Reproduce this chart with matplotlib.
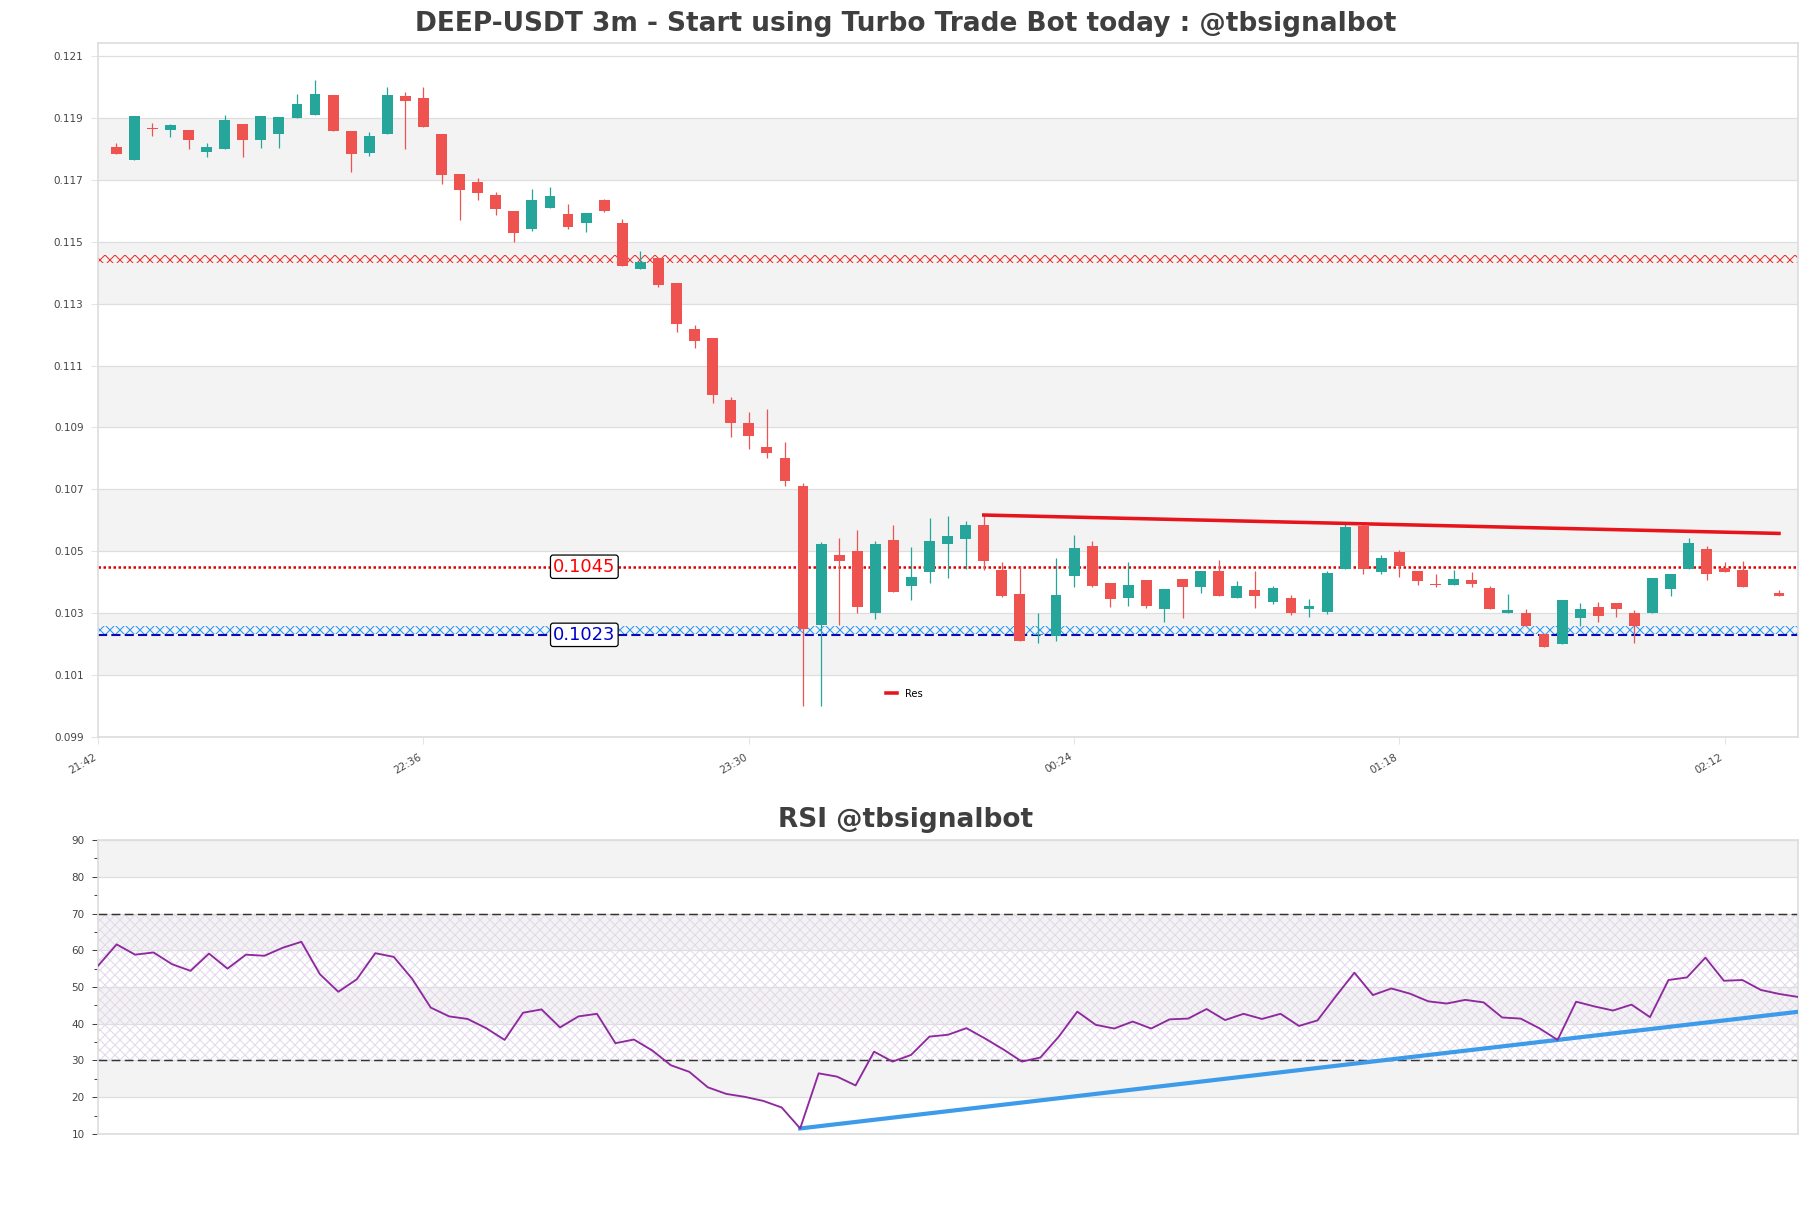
import matplotlib
matplotlib.use("Agg")
import matplotlib.pyplot as plt
import numpy as np
import pandas as pd

# OHLC of the 3m candles, first candle 21:45
opens = [0.11806, 0.11765, 0.11868, 0.11862, 0.11861, 0.11790, 0.11798, 0.11881, 0.11827, 0.11849,
         0.11901, 0.11908, 0.11974, 0.11858, 0.11785, 0.11849, 0.11970, 0.11965, 0.11848, 0.11719,
         0.11694, 0.11652, 0.11600, 0.11540, 0.11608, 0.11590, 0.11559, 0.11634, 0.11561, 0.11412,
         0.11447, 0.11368, 0.11218, 0.11188, 0.10988, 0.10914, 0.10838, 0.10801, 0.10711, 0.10262,
         0.10489, 0.10502, 0.10299, 0.10537, 0.10387, 0.10432, 0.10522, 0.10541, 0.10585, 0.10441,
         0.10363, 0.10229, 0.10226, 0.10419, 0.10518, 0.10399, 0.10348, 0.10408, 0.10315, 0.10411,
         0.10383, 0.10437, 0.10348, 0.10376, 0.10335, 0.10350, 0.10312, 0.10305, 0.10444, 0.10580,
         0.10432, 0.10496, 0.10437, 0.10394, 0.10390, 0.10408, 0.10382, 0.10302, 0.10300, 0.10233,
         0.10201, 0.10286, 0.10321, 0.10334, 0.10301, 0.10302, 0.10377, 0.10442, 0.10508, 0.10445,
         0.10441, 0.10368, 0.10366]
highs = [0.11818, 0.11906, 0.11883, 0.11881, 0.11861, 0.11818, 0.11909, 0.11881, 0.11906, 0.11903,
         0.11977, 0.12023, 0.11974, 0.11858, 0.11855, 0.11999, 0.11984, 0.11999, 0.11848, 0.11719,
         0.11705, 0.11661, 0.11600, 0.11671, 0.11677, 0.11623, 0.11594, 0.11638, 0.11573, 0.11469,
         0.11447, 0.11368, 0.11232, 0.11188, 0.10997, 0.10949, 0.10959, 0.10852, 0.10719, 0.10529,
         0.10542, 0.10568, 0.10534, 0.10585, 0.10515, 0.10607, 0.10614, 0.10598, 0.10617, 0.10465,
         0.10453, 0.10301, 0.10478, 0.10553, 0.10534, 0.10399, 0.10465, 0.10408, 0.10379, 0.10411,
         0.10437, 0.10473, 0.10405, 0.10437, 0.10388, 0.10358, 0.10346, 0.10435, 0.10590, 0.10585,
         0.10489, 0.10504, 0.10437, 0.10428, 0.10441, 0.10434, 0.10388, 0.10363, 0.10314, 0.10233,
         0.10343, 0.10334, 0.10337, 0.10334, 0.10311, 0.10415, 0.10428, 0.10543, 0.10516, 0.10466,
         0.10469, 0.10369, 0.10376]
lows = [0.11782, 0.11765, 0.11840, 0.11837, 0.11801, 0.11775, 0.11798, 0.11775, 0.11803, 0.11804,
        0.11901, 0.11908, 0.11856, 0.11724, 0.11778, 0.11849, 0.11798, 0.11872, 0.11685, 0.11569,
        0.11635, 0.11585, 0.11499, 0.11533, 0.11608, 0.11541, 0.11530, 0.11597, 0.11420, 0.11412,
        0.11354, 0.11209, 0.11157, 0.10978, 0.10870, 0.10831, 0.10802, 0.10712, 0.10000, 0.10000,
        0.10262, 0.10301, 0.10282, 0.10368, 0.10342, 0.10397, 0.10413, 0.10443, 0.10438, 0.10352,
        0.10210, 0.10205, 0.10210, 0.10384, 0.10385, 0.10320, 0.10323, 0.10316, 0.10270, 0.10286,
        0.10364, 0.10357, 0.10348, 0.10318, 0.10331, 0.10294, 0.10289, 0.10296, 0.10444, 0.10426,
        0.10426, 0.10416, 0.10391, 0.10386, 0.10390, 0.10386, 0.10315, 0.10299, 0.10259, 0.10192,
        0.10201, 0.10257, 0.10270, 0.10289, 0.10205, 0.10302, 0.10354, 0.10442, 0.10408, 0.10432,
        0.10383, 0.10368, 0.10354]
closes = [0.11782, 0.11906, 0.11865, 0.11877, 0.11830, 0.11806, 0.11894, 0.11830, 0.11906, 0.11903,
          0.11945, 0.11977, 0.11856, 0.11782, 0.11842, 0.11974, 0.11956, 0.11872, 0.11717, 0.11666,
          0.11657, 0.11604, 0.11527, 0.11635, 0.11648, 0.11546, 0.11594, 0.11600, 0.11420, 0.11434,
          0.11359, 0.11234, 0.11178, 0.11005, 0.10915, 0.10873, 0.10818, 0.10726, 0.10248, 0.10524,
          0.10467, 0.10320, 0.10524, 0.10368, 0.10418, 0.10534, 0.10548, 0.10585, 0.10467, 0.10355,
          0.10210, 0.10233, 0.10360, 0.10511, 0.10389, 0.10345, 0.10392, 0.10322, 0.10379, 0.10383,
          0.10437, 0.10357, 0.10389, 0.10357, 0.10382, 0.10301, 0.10324, 0.10431, 0.10577, 0.10444,
          0.10479, 0.10451, 0.10403, 0.10390, 0.10411, 0.10394, 0.10315, 0.10311, 0.10259, 0.10192,
          0.10343, 0.10314, 0.10292, 0.10315, 0.10260, 0.10415, 0.10428, 0.10528, 0.10425, 0.10432,
          0.10383, 0.10369, 0.10354]
rsi = [55.8, 61.6, 58.8, 59.4, 56.2, 54.4, 59.1, 55.0, 58.8, 58.5,
       60.7, 62.3, 53.5, 48.7, 52.1, 59.2, 58.2, 52.2, 44.4, 42.0,
       41.3, 38.8, 35.6, 43.0, 43.9, 39.0, 42.0, 42.7, 34.7, 35.7,
       32.7, 28.7, 26.9, 22.7, 20.9, 20.1, 19.0, 17.2, 11.5, 26.5,
       25.6, 23.2, 32.4, 29.7, 31.5, 36.5, 37.0, 38.8, 36.0, 33.0,
       29.7, 30.8, 36.5, 43.3, 39.7, 38.7, 40.6, 38.7, 41.2, 41.4,
       44.0, 41.0, 42.7, 41.3, 42.7, 39.4, 40.9, 47.5, 53.9, 47.8,
       49.6, 48.2, 46.1, 45.5, 46.5, 45.8, 41.7, 41.4, 38.8, 35.6,
       46.0, 44.7, 43.6, 45.2, 41.8, 51.9, 52.6, 58.0, 51.7, 51.9,
       49.2, 48.1, 47.3]

# levels
res_zone = (0.11432, 0.11458)
sup_zone = (0.10232, 0.10258)
res_level = 0.1045
sup_level = 0.1023
res_pivots = [49, 69]      # candle numbers of the highs on the Res line
rsi_pivots = [39, 80]      # candle numbers of the lows on the RSI support line

first_time = pd.Timestamp("2024-01-01 21:45")
n = len(closes)
x = np.arange(1, n + 1)
opens, highs, lows, closes, rsi = map(np.array, (opens, highs, lows, closes, rsi))

plt.rcParams["hatch.linewidth"] = 0.5

GREEN = "#26a69a"
RED = "#ef5350"
BAND = "#f3f3f3"
GRID = "#dedede"
TXT = "#444444"

fig = plt.figure(figsize=(1811 / 150, 1208 / 150), dpi=150)
ax = fig.add_axes([0.0542, 0.3899, 0.9385, 0.5743])
ax2 = fig.add_axes([0.0542, 0.0613, 0.9385, 0.2433])

# ---------- price panel ----------
for lo in np.arange(0.101, 0.119, 0.004):
    ax.axhspan(lo, lo + 0.002, color=BAND, lw=0, zorder=0)
ax.set_yticks(np.arange(0.099, 0.1215, 0.002))
ax.yaxis.grid(True, color=GRID, lw=0.6, zorder=0.5)
ax.set_axisbelow(True)

up = closes >= opens
colors = np.where(up, GREEN, RED)
ax.vlines(x, lows, highs, colors=colors, lw=0.6, zorder=3)
body_lo = np.minimum(opens, closes)
body_h = np.maximum(np.abs(closes - opens), 0.000015)
ax.bar(x, body_h, bottom=body_lo, width=0.6, color=colors, lw=0, zorder=4)

ax.axhspan(*res_zone, facecolor="none", edgecolor="#e8352b", hatch="xxxxx", lw=0, zorder=2)
ax.axhspan(*sup_zone, facecolor="none", edgecolor="#2b9af0", hatch="xxxxx", lw=0, zorder=2)
ax.axhline(res_level, color="#e00000", lw=1.2, dashes=(1, 1), zorder=2)
ax.axhline(sup_level, color="#0a0ab4", lw=1.0, dashes=(4.4, 2), zorder=2)
ax.text(26.9, res_level, f"{res_level:.4f}", color="#ff0000", fontsize=8.6,
        ha="center", va="center", zorder=6,
        bbox=dict(boxstyle="round,pad=0.15", fc="white", ec="black", lw=0.6))
ax.text(26.9, sup_level, f"{sup_level:.4f}", color="#0000cc", fontsize=8.6,
        ha="center", va="center", zorder=6,
        bbox=dict(boxstyle="round,pad=0.15", fc="white", ec="black", lw=0.6))

# resistance trend line through two pivot highs, extended to the last candle
p1, p2 = res_pivots
slope = (highs[p2 - 1] - highs[p1 - 1]) / (p2 - p1)
tx = np.array([p1, n])
ax.plot(tx, highs[p1 - 1] + slope * (tx - p1), color="#e8141c", lw=1.7,
        label="Res", zorder=5)
ax.legend(loc="center left", bbox_to_anchor=(0.4636, 0.062), frameon=False,
          fontsize=4.8, handlelength=1.1, handletextpad=0.8, borderpad=0,
          borderaxespad=0)

ax.set_xlim(0, n + 1.04)
ax.set_ylim(0.099, 0.12141)
tick_pos = np.arange(0, n, 18)
tick_lab = [(first_time + pd.Timedelta(minutes=3 * (p - 1))).strftime("%H:%M") for p in tick_pos]
ax.set_xticks(tick_pos)
ax.set_xticklabels(tick_lab, rotation=30, ha="right")
ax.yaxis.set_major_formatter(plt.FormatStrFormatter("%.3f"))
ax.tick_params(labelsize=5, colors=TXT, length=3.5, width=0.5)
ax.tick_params(axis="both", color="#e4e4e4")
for s in ax.spines.values():
    s.set_color("#dddddd")
    s.set_linewidth(0.8)

# ---------- RSI panel ----------
for lo in (20, 40, 60, 80):
    ax2.axhspan(lo, lo + 10, color=BAND, lw=0, zorder=0)
ax2.axhspan(30, 70, facecolor="none", edgecolor="#e3d8ec", hatch="xxxxx", lw=0, zorder=1)
ax2.set_yticks(np.arange(10, 91, 10))
ax2.set_yticks(np.arange(15, 90, 10), minor=True)
ax2.yaxis.grid(True, which="major", color=GRID, lw=0.6)
ax2.set_axisbelow(True)
ax2.axhline(70, color="#333333", lw=0.7, dashes=(6, 3), zorder=2)
ax2.axhline(30, color="#333333", lw=0.7, dashes=(6, 3), zorder=2)
ax2.plot(x, rsi, color="#8e2a9e", lw=0.9, zorder=4)

q1, q2 = rsi_pivots
rslope = (rsi[q2 - 1] - rsi[q1 - 1]) / (q2 - q1)
rx = np.array([q1, n])
ax2.plot(rx, rsi[q1 - 1] + rslope * (rx - q1), color="#3d9be9", lw=2.0, zorder=3)

ax2.set_xlim(1, n)
ax2.set_ylim(10, 90)
ax2.set_xticks([])
ax2.tick_params(labelsize=5, colors=TXT, length=3, width=0.5)
ax2.tick_params(which="minor", length=2, width=0.5, colors=TXT)
for s in ax2.spines.values():
    s.set_color("#dddddd")
    s.set_linewidth(0.8)

fig.text(0.5, 0.9800, "DEEP-USDT 3m - Start using Turbo Trade Bot today : @tbsignalbot",
         ha="center", va="center", fontsize=12.7, fontweight="bold", color="#3f3f3f")
fig.text(0.5, 0.3212, "RSI @tbsignalbot", ha="center", va="center",
         fontsize=12.7, fontweight="bold", color="#3f3f3f")

fig.savefig("out.png", dpi=150)
